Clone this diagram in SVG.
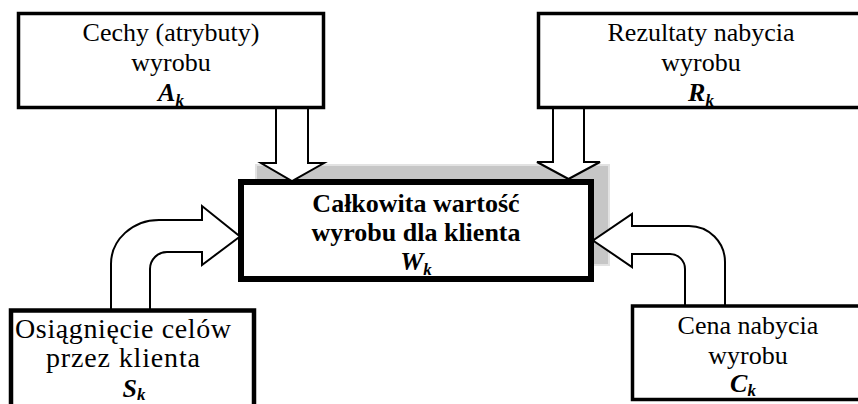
<svg xmlns="http://www.w3.org/2000/svg" width="858" height="404" viewBox="0 0 858 404">
  <style>
    .box { fill: #ffffff; stroke: #000000; stroke-width: 3.5; }
    .main { fill: #ffffff; stroke: #000000; stroke-width: 6; }
    .shadow { fill: #c6c6c6; stroke: #e2e2e2; stroke-width: 2; }
    .arrow { fill: #ffffff; stroke: #000000; stroke-width: 2; stroke-linejoin: miter; }
    text { font-family: "Liberation Serif", "Times New Roman", serif; font-size: 26px; fill: #000000; text-anchor: middle; }
    .b { font-weight: bold; }
    .sym { font-weight: bold; font-style: italic; }
    .sub { font-size: 17px; }
    .big { font-size: 28px; }
  </style>

  <!-- central node with its offset shadow -->
  <g id="node-wartosc">
    <rect class="shadow" x="256" y="165" width="353" height="100"/>
    <rect class="main" x="241" y="182" width="350" height="97"/>
    <text class="b" x="416" y="212">Całkowita wartość</text>
    <text class="b" x="416" y="241">wyrobu dla klienta</text>
    <text class="sym" x="416" y="270">W<tspan class="sub" dy="5">k</tspan></text>
  </g>

  <!-- block arrows feeding the central node -->
  <g id="connectors">
    <path class="arrow" d="M276,109 L276,163 L261,163 L292,181 L324,163 L308,163 L308,109"/>
    <path class="arrow" d="M553,109 L553,162 L537,162 L568.5,179 L600,162 L584,162 L584,109"/>
    <path class="arrow" d="M111,311 L111,264 A48,44 0 0 1 159,220 L202,220 L202,206 L240,236.5 L202,265 L202,252 L167,252 A17,17 0 0 0 150,269 L150,311"/>
    <path class="arrow" d="M725,307 L725,262 A36,36 0 0 0 689,226 L632,226 L632,214 L593,240.5 L632,267 L632,254 L670,254 A15,15 0 0 1 685,269 L685,307"/>
  </g>

  <g id="node-cechy">
    <rect class="box" x="18.5" y="13.5" width="305" height="94"/>
    <text x="171" y="41">Cechy (atrybuty)</text>
    <text x="171" y="71">wyrobu</text>
    <text class="sym" x="171" y="101">A<tspan class="sub" dy="5">k</tspan></text>
  </g>

  <g id="node-rezultaty">
    <rect class="box" x="538.5" y="13.5" width="330" height="94"/>
    <text x="701" y="41">Rezultaty nabycia</text>
    <text x="701" y="71">wyrobu</text>
    <text class="sym" x="701" y="101">R<tspan class="sub" dy="5">k</tspan></text>
  </g>

  <g id="node-cele">
    <rect class="box" x="11" y="310.5" width="243" height="110" style="stroke-width:4.5"/>
    <text class="big" x="123" y="338" textLength="216" lengthAdjust="spacing">Osiągnięcie celów</text>
    <text class="big" x="123" y="367" textLength="154" lengthAdjust="spacing">przez klienta</text>
    <text class="sym" x="134" y="397">S<tspan class="sub" dy="3">k</tspan></text>
  </g>

  <g id="node-cena">
    <rect class="box" x="632.5" y="306" width="235" height="93.5"/>
    <text x="748" y="334">Cena nabycia</text>
    <text x="748" y="364">wyrobu</text>
    <text class="sym" x="743" y="392">C<tspan class="sub" dy="4">k</tspan></text>
  </g>
</svg>
